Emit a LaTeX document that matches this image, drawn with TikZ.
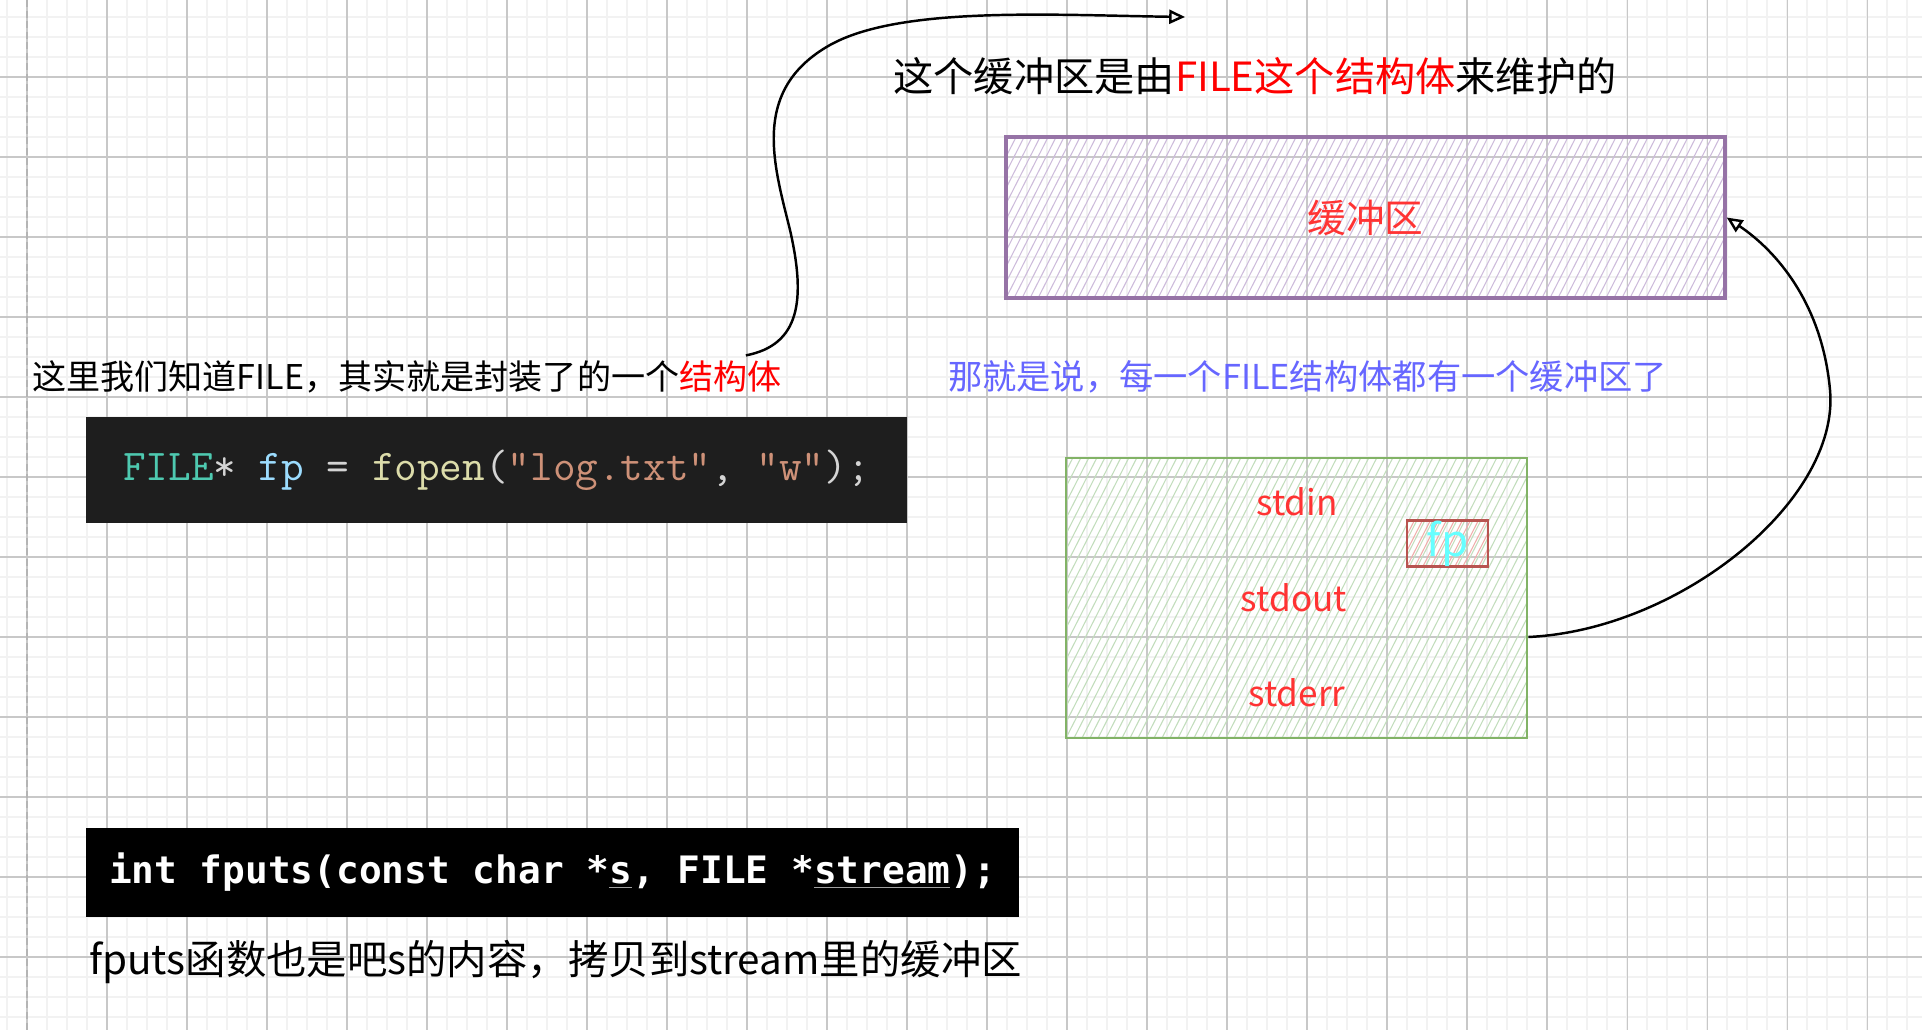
\documentclass[tikz,border=0pt]{standalone}
\usepackage{fontspec}
\setmainfont{Noto Sans CJK SC}
\newfontfamily\codefont{DejaVu Sans Mono}
\usetikzlibrary{arrows.meta}
\definecolor{gridminor}{HTML}{F2F2F2}
\definecolor{gridmajor}{HTML}{C8C8C8}
\definecolor{labelred}{HTML}{FF3333}
\definecolor{noteblue}{HTML}{6666FF}
\definecolor{bufferline}{HTML}{9673A6}
\definecolor{bufferhatch}{HTML}{CDBBDB}
\definecolor{filesline}{HTML}{82B366}
\definecolor{fileshatch}{HTML}{C2DDBC}
\definecolor{fpline}{HTML}{B85450}
\definecolor{fphatch}{HTML}{F0AEAB}
\definecolor{fpcyan}{HTML}{66FFFF}
\definecolor{codebg}{HTML}{1E1E1E}
\definecolor{ctype}{HTML}{4EC9B0}
\definecolor{cvar}{HTML}{9CDCFE}
\definecolor{cfunc}{HTML}{DCDCAA}
\definecolor{cstr}{HTML}{CE9178}
\definecolor{cplain}{HTML}{D4D4D4}
\definecolor{ulgray}{HTML}{A0A0A0}
\newcommand\codeul[1]{{\color{ulgray}\underline{\textcolor{white}{#1}}}}
\tikzset{
  hatch/.style={path picture={
    \foreach \k in {-25,...,95}
      \draw[#1,line width=0.6pt] ([xshift=\k*0.16cm]path picture bounding box.south west) -- ++(63:9cm);}},
  notetext/.style={inner sep=0pt},
  streamlabel/.style={inner sep=0pt,text=labelred,font=\fontsize{20}{24}\selectfont},
  codeline/.style={fill=#1,inner sep=0pt},
  sketcharrow/.style={draw=black,line width=1.4pt,-{Triangle[open,length=9pt,width=8pt]}}
}
\begin{document}
\begin{tikzpicture}[x=0.02cm,y=-0.02cm]
		\fill[white] (0,0) rectangle (1922,1030);
		\useasboundingbox (0,0) rectangle (1922,1030);
		\foreach \gx in {7,27,...,1922} \draw[gridminor,line width=1.1pt] (\gx,0) -- (\gx,1030);
		\foreach \gy in {17,37,...,1030} \draw[gridminor,line width=1.1pt] (0,\gy) -- (1922,\gy);
		\foreach \gx in {27,107,...,1922} \draw[gridmajor,line width=0.6pt] (\gx,0) -- (\gx,1030);
		\foreach \gy in {77,157,...,1030} \draw[gridmajor,line width=0.6pt] (0,\gy) -- (1922,\gy);
		\draw[gridmajor!90!black,line width=1.1pt,dash pattern=on 4pt off 2pt] (27,0) -- (27,1030);

		\node (title) at (1255,76) [notetext,font=\fontsize{22.9}{27}\selectfont] {这个缓冲区是由\textcolor{red}{FILE这个结构体}来维护的};
		\node (buffer) at (1365.5,217.5) [draw=bufferline,line width=2pt,minimum width=14.38cm,minimum height=3.22cm,hatch=bufferhatch,text=labelred,font=\fontsize{22}{26}\selectfont] {缓冲区};
		\node (lefttext) at (407,377) [notetext,font=\fontsize{19.4}{23}\selectfont] {这里我们知道FILE，其实就是封装了的一个\textcolor{red}{结构体}};
		\node (bluetext) at (1307.5,377) [notetext,text=noteblue,font=\fontsize{19.5}{23}\selectfont] {那就是说，每一个FILE结构体都有一个缓冲区了};
		\node (fopen) at (496.5,470) [codeline=codebg,minimum width=16.42cm,minimum height=2.12cm,font=\ttfamily\fontsize{25}{30}\selectfont] {\color{cplain}{\color{ctype}FILE}* {\color{cvar}fp} = {\color{cfunc}fopen}({\color{cstr}"log.txt"}, {\color{cstr}"w"});};

		\node (files) at (1296.5,598) [draw=filesline,line width=1.6pt,minimum width=9.22cm,minimum height=5.6cm,hatch=fileshatch] {};
		\node (fp) at (1447.5,543.5) [draw=fpline,line width=1.6pt,inner sep=0pt,minimum width=1.62cm,minimum height=0.82cm,hatch=fphatch,text=fpcyan,font=\fontsize{25}{30}\selectfont] {fp};
		\node (stdin) at (1297,502) [streamlabel] {stdin};
		\node (stdout) at (1294,598) [streamlabel] {stdout};
		\node (stderr) at (1297,693) [streamlabel] {stderr};

		\node (fputs) at (552.5,872.5) [codeline=black,minimum width=18.66cm,minimum height=1.78cm,text=white,font=\codefont\bfseries\fontsize{21.5}{26}\selectfont] {int fputs(const char *\codeul{s}, FILE *\codeul{stream});};
		\node (bottomtext) at (555.5,962) [notetext,font=\fontsize{23}{28}\selectfont] {fputs函数也是吧s的内容，拷贝到stream里的缓冲区};

		\coordinate (toptip) at (1185,17);
		\draw[sketcharrow] ([xshift=-0.72cm,yshift=0.1cm]lefttext.north east) .. controls (800,345) and (806,300) .. (790,230) .. controls (774,165) and (750,90) .. (830,45) .. controls (900,6) and (1050,15) .. (toptip);
		\draw[sketcharrow] ([yshift=-0.78cm]files.east) .. controls (1680,630) and (1840,500) .. (1830,390) .. controls (1822,302) and (1775,250) .. (buffer.east);
\end{tikzpicture}
\end{document}
